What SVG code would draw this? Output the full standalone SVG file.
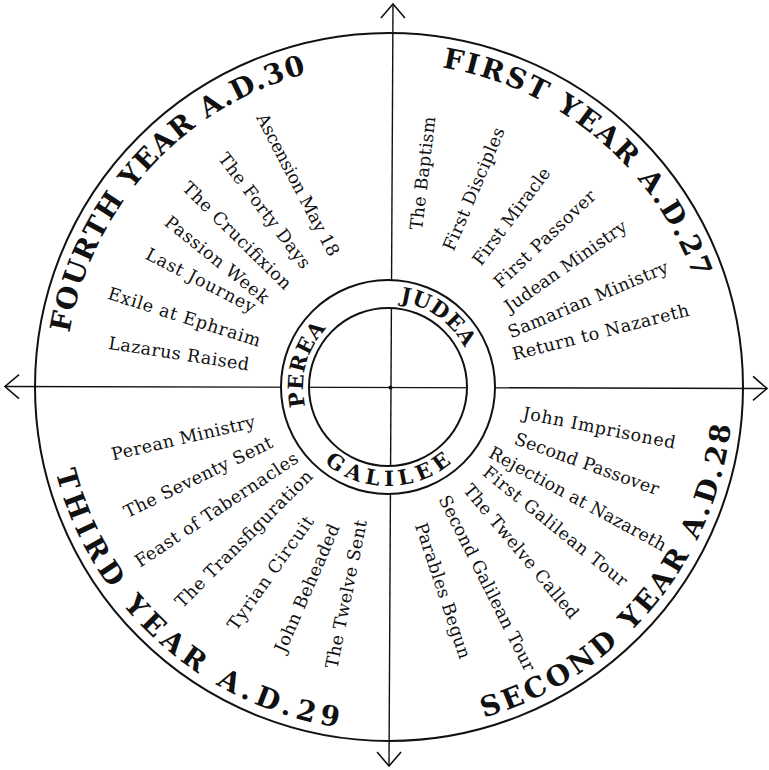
<svg xmlns="http://www.w3.org/2000/svg" width="769" height="770" viewBox="0 0 769 770">
<style>
.item{font-family:"DejaVu Serif",serif;font-size:17.5px;fill:#111;}
.head{font-family:"DejaVu Serif",serif;font-weight:bold;font-size:28px;fill:#111;}
.region{font-family:"DejaVu Serif",serif;font-weight:bold;font-size:21px;fill:#111;}
.ln{stroke:#111;stroke-width:1.4;fill:none;}
.circ{stroke:#111;stroke-width:2;fill:none;}
</style>
<defs>
<marker id="arr" markerUnits="userSpaceOnUse" viewBox="-16 -14 20 28" markerWidth="20" markerHeight="28" refX="0" refY="0" orient="auto-start-reverse" overflow="visible">
<path d="M-14,-12 L0,0 L-14,12" fill="none" stroke="#111" stroke-width="1.6"/>
</marker>
<path id="pFourth" d="M69.54,332.97 A324,324 0 0 1 306.23,73.75"/>
<path id="pFirst" d="M441.92,67.35 A324,324 0 0 1 694.42,278.85"/>
<path id="pThird" d="M55.66,471.97 A344,344 0 0 0 338.15,727.22"/>
<path id="pSecond" d="M483.82,717.67 A344,344 0 0 0 730.92,424.75"/>
<path id="pJudea" d="M399.97,301.84 A86,86 0 0 1 464.63,347.96"/>
<path id="pPerea" d="M305.25,406.41 A85,85 0 0 1 326.45,328.38"/>
<path id="pGalilee" d="M324.36,462.84 A99,99 0 0 0 451.64,462.84"/>
</defs>
<rect width="769" height="770" fill="#fff"/>

<g id="outer-circle">
<circle class="circ" cx="389" cy="387" r="354"/>
</g>

<g id="connectors">
<line class="ln" x1="393" y1="4" x2="389" y2="766" marker-start="url(#arr)" marker-end="url(#arr)"/>
<line class="ln" x1="5" y1="386.5" x2="767" y2="388.5" marker-start="url(#arr)" marker-end="url(#arr)"/>
</g>

<g id="ring">
<path d="M495,387 A107,107 0 1 0 281,387 A107,107 0 1 0 495,387 Z M467,387 A79,79 0 1 1 309,387 A79,79 0 1 1 467,387 Z" fill="#fff" fill-rule="evenodd" stroke="#111" stroke-width="2"/>
<circle cx="390.5" cy="387.5" r="2" fill="#111"/>
</g>

<g id="regions">
<text class="region"><textPath href="#pJudea" textLength="82" lengthAdjust="spacing">JUDEA</textPath></text>
<text class="region"><textPath href="#pPerea" textLength="84" lengthAdjust="spacing">PEREA</textPath></text>
<text class="region"><textPath href="#pGalilee" textLength="138" lengthAdjust="spacing">GALILEE</textPath></text>
</g>

<g id="year-headings">
<text class="head"><textPath href="#pFourth" textLength="371" lengthAdjust="spacing">FOURTH YEAR A.D.30</textPath></text>
<text class="head"><textPath href="#pFirst" textLength="345" lengthAdjust="spacing">FIRST YEAR A.D.27</textPath></text>
<text class="head"><textPath href="#pThird" textLength="403" lengthAdjust="spacing">THIRD YEAR A.D.29</textPath></text>
<text class="head"><textPath href="#pSecond" textLength="406" lengthAdjust="spacing">SECOND YEAR A.D.28</textPath></text>
</g>

<g id="fourth-year" text-anchor="middle">
<text class="item" transform="translate(297.5,185) rotate(62.3)" y="5.5" textLength="158" lengthAdjust="spacing">Ascension May 18</text>
<text class="item" transform="translate(264.2,210.9) rotate(52.7)" y="5.5" textLength="140" lengthAdjust="spacing">The Forty Days</text>
<text class="item" transform="translate(236.7,235.9) rotate(44.5)" y="5.5" textLength="145" lengthAdjust="spacing">The Crucifixion</text>
<text class="item" transform="translate(216.7,260) rotate(38.7)" y="5.5" textLength="128" lengthAdjust="spacing">Passion Week</text>
<text class="item" transform="translate(200.5,280.8) rotate(27.1)" y="5.5" textLength="121" lengthAdjust="spacing">Last Journey</text>
<text class="item" transform="translate(184.2,317.5) rotate(17.7)" y="5.5" textLength="159" lengthAdjust="spacing">Exile at Ephraim</text>
<text class="item" transform="translate(178.7,354.2) rotate(8.8)" y="5.5" textLength="142" lengthAdjust="spacing">Lazarus Raised</text>
</g>

<g id="first-year" text-anchor="middle">
<text class="item" transform="translate(423.3,173.3) rotate(-83.3)" y="5.5" textLength="114" lengthAdjust="spacing">The Baptism</text>
<text class="item" transform="translate(474.2,189.2) rotate(-67)" y="5.5" textLength="132" lengthAdjust="spacing">First Disciples</text>
<text class="item" transform="translate(511.7,216.7) rotate(-53.1)" y="5.5" textLength="117" lengthAdjust="spacing">First Miracle</text>
<text class="item" transform="translate(545,239.2) rotate(-43.5)" y="5.5" textLength="133" lengthAdjust="spacing">First Passover</text>
<text class="item" transform="translate(565.8,266.7) rotate(-35.2)" y="5.5" textLength="145" lengthAdjust="spacing">Judean Ministry</text>
<text class="item" transform="translate(588.2,300) rotate(-22.8)" y="5.5" textLength="172" lengthAdjust="spacing">Samarian Ministry</text>
<text class="item" transform="translate(600.7,332.5) rotate(-14.3)" y="5.5" textLength="182" lengthAdjust="spacing">Return to Nazareth</text>
</g>

<g id="third-year" text-anchor="middle">
<text class="item" transform="translate(183.4,438.4) rotate(-13.1)" y="5.5" textLength="147" lengthAdjust="spacing">Perean Ministry</text>
<text class="item" transform="translate(198.4,477.5) rotate(-26)" y="5.5" textLength="163" lengthAdjust="spacing">The Seventy Sent</text>
<text class="item" transform="translate(216.7,510) rotate(-33.7)" y="5.5" textLength="192" lengthAdjust="spacing">Feast of Tabernacles</text>
<text class="item" transform="translate(244.2,539.2) rotate(-45)" y="5.5" textLength="186" lengthAdjust="spacing">The Transfiguration</text>
<text class="item" transform="translate(270.9,573.3) rotate(-54.6)" y="5.5" textLength="135" lengthAdjust="spacing">Tyrian Circuit</text>
<text class="item" transform="translate(307.5,588.4) rotate(-66.5)" y="5.5" textLength="138" lengthAdjust="spacing">John Beheaded</text>
<text class="item" transform="translate(346.7,594.2) rotate(-78.6)" y="5.5" textLength="151" lengthAdjust="spacing">The Twelve Sent</text>
</g>

<g id="second-year" text-anchor="middle">
<text class="item" transform="translate(599.2,428.3) rotate(11.2)" y="5.5" textLength="155" lengthAdjust="spacing">John Imprisoned</text>
<text class="item" transform="translate(586.7,464.2) rotate(19.8)" y="5.5" textLength="152" lengthAdjust="spacing">Second Passover</text>
<text class="item" transform="translate(577.5,499.2) rotate(28.5)" y="5.5" textLength="199" lengthAdjust="spacing">Rejection at Nazareth</text>
<text class="item" transform="translate(555,526.7) rotate(39)" y="5.5" textLength="180" lengthAdjust="spacing">First Galilean Tour</text>
<text class="item" transform="translate(520.8,551.7) rotate(50.2)" y="5.5" textLength="169" lengthAdjust="spacing">The Twelve Called</text>
<text class="item" transform="translate(486.7,583.3) rotate(63.4)" y="5.5" textLength="194" lengthAdjust="spacing">Second Galilean Tour</text>
<text class="item" transform="translate(442.5,590.8) rotate(71.6)" y="5.5" textLength="142" lengthAdjust="spacing">Parables Begun</text>
</g>
</svg>
